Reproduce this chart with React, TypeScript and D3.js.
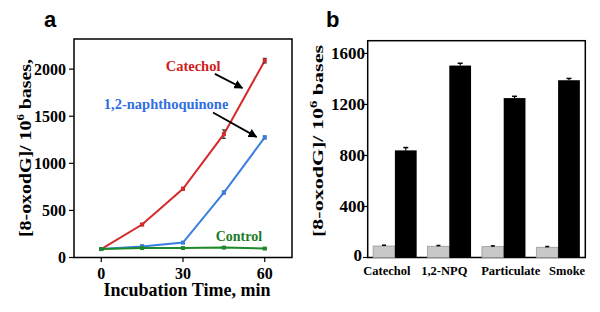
import React from "react";
import * as d3 from "d3";

// ---------- Panel a data ----------
const times = [0, 15, 30, 45, 60];
const catechol = [90, 350, 730, 1310, 2090];
const catecholErr = [5, 12, 15, 45, 25];
const naphtho = [90, 118, 158, 690, 1275];
const naphthoErr = [5, 15, 10, 15, 15];
const control = [90, 100, 100, 105, 95];
const controlErr = [5, 5, 5, 5, 5];
const xTicksA = [0, 30, 60];
const yTicksA = [0, 500, 1000, 1500, 2000];

// ---------- Panel b data ----------
const categories = ["Catechol", "1,2-NPQ", "Particulate", "Smoke"];
const controlVals = [90, 88, 85, 80];
const controlValsErr = [6, 6, 6, 6];
const treatedVals = [840, 1505, 1250, 1390];
const treatedErr = [22, 18, 14, 14];
const yTicksB = [0, 400, 800, 1200, 1600];
const labelDx = [-8, -5, 7, 9];

const SERIF = "'Liberation Serif', 'Times New Roman', serif";
const SANS = "'Liberation Sans', Arial, sans-serif";

const RED = "#d42a2a";
const BLUE = "#3a7fe0";
const GREEN = "#1f8a2c";

export default function App() {
  // Panel a scales
  const xA = d3.scaleLinear().domain([-10, 70]).range([74, 292]);
  const yA = d3.scaleLinear().domain([0, 2320]).range([257.5, 39]);
  const line = (vals: number[]) =>
    d3
      .line<number>()
      .x((_, i) => xA(times[i]))
      .y((v) => yA(v))(vals) as string;

  const seriesA = [
    { vals: catechol, err: catecholErr, color: RED },
    { vals: naphtho, err: naphthoErr, color: BLUE },
    { vals: control, err: controlErr, color: GREEN },
  ];

  // Panel b scales
  const xB = d3
    .scaleBand<string>()
    .domain(categories)
    .range([367.7, 585.3])
    .paddingInner(0.2)
    .paddingOuter(0.1);
  const sub = d3
    .scaleBand<string>()
    .domain(["c", "t"])
    .range([0, xB.bandwidth()])
    .padding(0);
  const yB = d3.scaleLinear().domain([0, 1700]).range([257.5, 40.7]);

  const arrows = [
    { x1: 41.7, y1: 1950, x2: 51.8, y2: 1800 },
    { x1: 41.0, y1: 1540, x2: 57.0, y2: 1280 },
  ];

  return (
    <svg width={600} height={312} style={{ position: "absolute", left: 0, top: 0, background: "#fff" }}>
      <defs>
        <marker id="ah" viewBox="0 0 10 10" refX="9" refY="5" markerWidth="5" markerHeight="5" orient="auto">
          <path d="M0,0 L10,5 L0,10 z" fill="#000" />
        </marker>
      </defs>

      {/* ---------------- Panel a ---------------- */}
      <text x={44} y={27} fontFamily={SANS} fontWeight="bold" fontSize={22}>a</text>
      <rect x={74} y={39} width={218} height={218.5} fill="none" stroke="#000" strokeWidth={1.5} />
      {yTicksA.map((t) => (
        <g key={"ya" + t}>
          <line x1={69} x2={74} y1={yA(t)} y2={yA(t)} stroke="#000" strokeWidth={1.2} />
          <text x={66} y={yA(t)} dy="0.35em" textAnchor="end" fontFamily={SERIF} fontWeight="bold" fontSize={16}>{t}</text>
        </g>
      ))}
      {xTicksA.map((t) => (
        <g key={"xa" + t}>
          <line x1={xA(t)} x2={xA(t)} y1={257.5} y2={262} stroke="#000" strokeWidth={1.2} />
          <text x={xA(t)} y={278.5} textAnchor="middle" fontFamily={SERIF} fontWeight="bold" fontSize={16}>{t}</text>
        </g>
      ))}
      <text x={187} y={296} textAnchor="middle" fontFamily={SERIF} fontWeight="bold" fontSize={18}>Incubation Time, min</text>
      <text
        transform="translate(31,148) rotate(-90)"
        textAnchor="middle"
        fontFamily={SERIF}
        fontWeight="bold"
        fontSize={17}
        textLength={178}
        lengthAdjust="spacingAndGlyphs"
      >
        [8-oxodG]/ 10<tspan dy="-7" fontSize={11}>6</tspan><tspan dy="7"> bases,</tspan>
      </text>

      {seriesA.map((s, si) => (
        <g key={"s" + si}>
          <path d={line(s.vals)} fill="none" stroke={s.color} strokeWidth={2} />
          {s.vals.map((v, i) => (
            <g key={i}>
              <line x1={xA(times[i])} x2={xA(times[i])} y1={yA(v - s.err[i])} y2={yA(v + s.err[i])} stroke="#222" strokeWidth={1} />
              <line x1={xA(times[i]) - 2} x2={xA(times[i]) + 2} y1={yA(v + s.err[i])} y2={yA(v + s.err[i])} stroke="#222" strokeWidth={1} />
              <line x1={xA(times[i]) - 2} x2={xA(times[i]) + 2} y1={yA(v - s.err[i])} y2={yA(v - s.err[i])} stroke="#222" strokeWidth={1} />
              <rect x={xA(times[i]) - 2} y={yA(v) - 2} width={4} height={4} fill={s.color} />
            </g>
          ))}
        </g>
      ))}

      <text x={xA(33.7)} y={yA(1975)} textAnchor="middle" fontFamily={SERIF} fontWeight="bold" fontSize={14.5} fill="#d01c1c">Catechol</text>
      <text x={xA(23.8)} y={yA(1575)} textAnchor="middle" fontFamily={SERIF} fontWeight="bold" fontSize={14.5} fill="#2f6fe0">1,2-naphthoquinone</text>
      <text x={xA(50.5)} y={yA(170)} textAnchor="middle" fontFamily={SERIF} fontWeight="bold" fontSize={14} fill="#1c7a2a">Control</text>
      {arrows.map((a, i) => (
        <line key={"ar" + i} x1={xA(a.x1)} y1={yA(a.y1)} x2={xA(a.x2)} y2={yA(a.y2)} stroke="#000" strokeWidth={1.8} markerEnd="url(#ah)" />
      ))}

      {/* ---------------- Panel b ---------------- */}
      <text x={326} y={27} fontFamily={SANS} fontWeight="bold" fontSize={22}>b</text>
      <rect x={367.7} y={40.7} width={217.6} height={216.8} fill="none" stroke="#000" strokeWidth={1.5} />
      {yTicksB.map((t) => (
        <g key={"yb" + t}>
          <line x1={363} x2={367.7} y1={yB(t)} y2={yB(t)} stroke="#000" strokeWidth={1.2} />
          <text x={t === 0 ? 362 : 365} y={yB(t)} dy={t === 0 ? "0.2em" : "0.35em"} textAnchor="end" fontFamily={SERIF} fontWeight="bold" fontSize={17}>{t}</text>
        </g>
      ))}
      <text
        transform="translate(323,141) rotate(-90)"
        textAnchor="middle"
        fontFamily={SERIF}
        fontWeight="bold"
        fontSize={15}
        textLength={192}
        lengthAdjust="spacingAndGlyphs"
      >
        [8-oxodG]/ 10<tspan dy="-6" fontSize={10}>6</tspan><tspan dy="6"> bases</tspan>
      </text>

      {categories.map((c, i) => {
        const x0 = xB(c) as number;
        const cx = x0 + (sub("c") as number);
        const tx = x0 + (sub("t") as number);
        const w = sub.bandwidth();
        return (
          <g key={c}>
            <rect x={cx} y={yB(controlVals[i])} width={w} height={yB(0) - yB(controlVals[i])} fill="#c8c8c8" stroke="#9a9a9a" strokeWidth={0.8} />
            <line x1={cx + w / 2} x2={cx + w / 2} y1={yB(controlVals[i] + controlValsErr[i])} y2={yB(controlVals[i])} stroke="#000" strokeWidth={1.2} />
            <line x1={cx + w / 2 - 2} x2={cx + w / 2 + 2} y1={yB(controlVals[i] + controlValsErr[i])} y2={yB(controlVals[i] + controlValsErr[i])} stroke="#000" strokeWidth={1.5} />
            <rect x={tx} y={yB(treatedVals[i])} width={w} height={yB(0) - yB(treatedVals[i])} fill="#000" />
            <line x1={tx + w / 2} x2={tx + w / 2} y1={yB(treatedVals[i] + treatedErr[i])} y2={yB(treatedVals[i])} stroke="#000" strokeWidth={1.2} />
            <line x1={tx + w / 2 - 2.5} x2={tx + w / 2 + 2.5} y1={yB(treatedVals[i] + treatedErr[i])} y2={yB(treatedVals[i] + treatedErr[i])} stroke="#000" strokeWidth={1.5} />
            <text x={x0 + xB.bandwidth() / 2 + labelDx[i]} y={274.5} textAnchor="middle" fontFamily={SERIF} fontWeight="bold" fontSize={12.5}>{c}</text>
          </g>
        );
      })}
    </svg>
  );
}
